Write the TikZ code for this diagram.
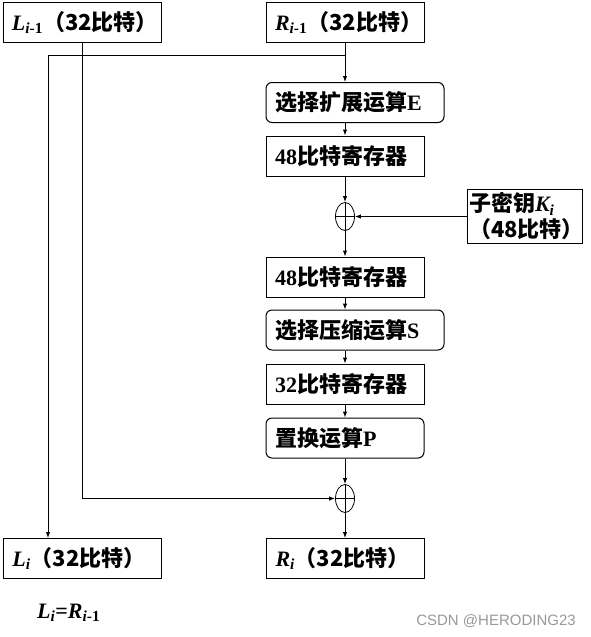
\documentclass[tikz,border=0pt]{standalone}
\usepackage{fontspec}
\setmainfont{Liberation Serif}
\newfontfamily\cjk{Noto Sans CJK SC}
\newfontfamily\wmfont{Liberation Sans}
\usetikzlibrary{arrows.meta,shapes.geometric}
\newcommand{\zh}[1]{{\cjk\bfseries #1}}
\newcommand{\bi}[1]{{\bfseries\itshape #1}}
\newcommand{\subim}{\textsubscript{\bfseries\itshape i\upshape -1}}
\newcommand{\subi}{\textsubscript{\bfseries\itshape i}}
\begin{document}
\begin{tikzpicture}[x=1pt,y=-1pt,
  every node/.style={font=\fontsize{22}{26}\selectfont\bfseries},
  box/.style={draw, line width=1pt, minimum height=40pt, inner xsep=9pt, inner ysep=0pt, align=left, text width=#1},
  rbox/.style={box=#1, rounded corners=6pt},
  xorn/.style={draw, ellipse, line width=0.8pt, minimum width=19pt, minimum height=28pt, inner sep=0pt},
  conn/.style={line width=1pt},
  arr/.style={conn, -{Latex[length=6pt,width=4.5pt]}}]
\useasboundingbox (0,0) rectangle (590,637);
% boxes
\node[box=140pt] (Li1) at (82,22.5) {\bi{L}\subim\zh{（32比特）}};
\node[box=140pt] (Ri1) at (345,22.5) {\bi{R}\subim\zh{（32比特）}};
\node[rbox=160pt] (E) at (355,102.5) {\zh{选择扩展运算}E};
\node[box=140pt] (A48) at (345,156) {48\zh{比特寄存器}};
\node[xorn] (x1) at (345,216.5) {};
\node[draw, line width=1pt, minimum width=115pt, minimum height=52pt, inner xsep=2pt, align=left, text width=111pt] (K) at (524.5,216.5) {\zh{子密钥}\bi{K}\subi\\\zh{（48比特）}};
\node[box=140pt] (B48) at (345,277) {48\zh{比特寄存器}};
\node[rbox=160pt] (S) at (355,330) {\zh{选择压缩运算}S};
\node[box=140pt] (C32) at (345,384) {32\zh{比特寄存器}};
\node[rbox=140pt] (P) at (345,438) {\zh{置换运算}P};
\node[xorn] (x2) at (345,498.5) {};
\node[box=140pt] (Li) at (82.5,558.5) {\bi{L}\subi\zh{（32比特）}};
\node[box=140pt] (Ri) at (345.5,558.5) {\bi{R}\subi\zh{（32比特）}};
\node[anchor=west, inner sep=0pt] (eq) at (37,613) {\bi{L}\subi=\bi{R}\subim};
\node[inner sep=0pt, text=black!40, font=\wmfont\fontsize{15}{18}\selectfont] (wm) at (496,621) {CSDN @HERODING23};
% xor crosses
\foreach \x in {x1,x2}{
  \draw[line width=0.8pt] (\x.north) -- (\x.south) (\x.west) -- (\x.east);
}
% connectors
\coordinate (br) at (345,55);
\coordinate (lc) at (48,55);
\draw[arr] (Ri1.south) -- (Ri1.south |- E.north);
\draw[arr] (br) -- (lc) -- (lc |- Li.north);
\draw[arr] (Ri1.south |- E.south) -- (A48.north);
\draw[arr] (A48.south) -- (x1.north);
\draw[arr] (K.west) -- (x1.east);
\draw[arr] (x1.south) -- (B48.north);
\draw[arr] (B48.south) -- (B48.south |- S.north);
\draw[arr] (B48.south |- S.south) -- (C32.north);
\draw[arr] (C32.south) -- (P.north);
\draw[arr] (P.south) -- (x2.north);
\draw[arr] (x2.south) -- (x2.south |- Ri.north);
\draw[arr] (Li1.south) |- (x2.west);
\end{tikzpicture}
\end{document}
